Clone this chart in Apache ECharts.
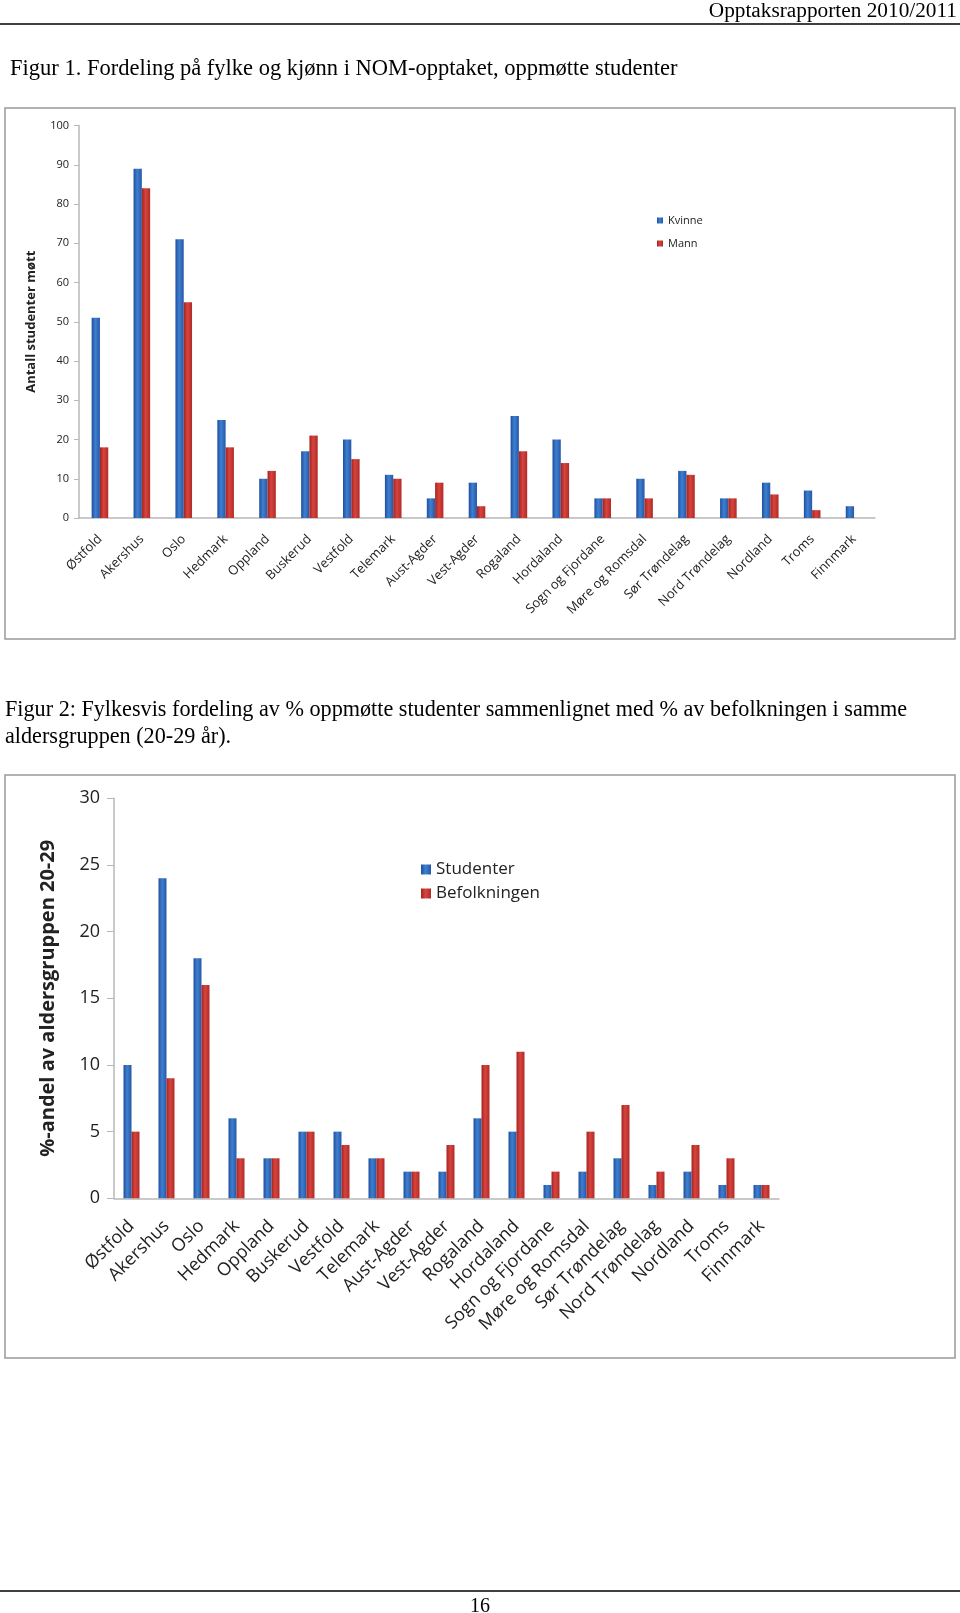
<!DOCTYPE html>
<html>
<head>
<meta charset="utf-8">
<script src="https://cdn.jsdelivr.net/npm/echarts@6/dist/echarts.min.js"></script>
<style>
html,body{margin:0;padding:0;background:#fff;}
#c{width:960px;height:1613px;}
</style>
</head>
<body>
<div id="c"></div>
<script>
// ---- Data ----
const fylker = ['Østfold','Akershus','Oslo','Hedmark','Oppland','Buskerud','Vestfold','Telemark','Aust-Agder','Vest-Agder','Rogaland','Hordaland','Sogn og Fjordane','Møre og Romsdal','Sør Trøndelag','Nord Trøndelag','Nordland','Troms','Finnmark'];
const kvinne = [51,89,71,25,10,17,20,11,5,9,26,20,5,10,12,5,9,7,3];
const mann   = [18,84,55,18,12,21,15,10,9,3,17,14,5,5,11,5,6,2,0];
const studenter    = [10,24,18,6,3,5,5,3,2,2,6,5,1,2,3,1,2,1,1];
const befolkningen = [5,9,16,3,3,5,4,3,2,4,10,11,2,5,7,2,4,3,1];

const headerText = 'Opptaksrapporten 2010/2011';
const caption1 = 'Figur 1. Fordeling på fylke og kjønn i NOM-opptaket, oppmøtte studenter';
const caption2a = 'Figur 2: Fylkesvis fordeling av % oppmøtte studenter sammenlignet med % av befolkningen i samme';
const caption2b = 'aldersgruppen (20-29 år).';
const pageNo = '16';

// ---- Styles ----
const blueGrad = new echarts.graphic.LinearGradient(0,0,1,0,[
  {offset:0,color:'#1f4f9c'},{offset:0.45,color:'#3f7fd0'},{offset:1,color:'#2658a8'}]);
const redGrad = new echarts.graphic.LinearGradient(0,0,1,0,[
  {offset:0,color:'#a3231f'},{offset:0.45,color:'#d8443e'},{offset:1,color:'#b02b27'}]);
const sans = '"Open Sans", "Noto Sans", sans-serif';
const serif = '"Liberation Serif", "DejaVu Serif", serif';
const axisGray = '#b8b8b8';

const chart = echarts.init(document.getElementById('c'), null, {renderer:'canvas'});
chart.setOption({
  animation:false,
  backgroundColor:'#fff',
  graphic:[
    {type:'text', right:3, top:1, style:{text:headerText, font:'21.3px '+serif, fill:'#000'}},
    {type:'line', shape:{x1:0,y1:24,x2:960,y2:24}, style:{stroke:'#000', lineWidth:1.5}},
    {type:'text', left:10, top:58, style:{text:caption1, font:'22.5px '+serif, fill:'#000'}},
    {type:'rect', shape:{x:5,y:108,width:950,height:531}, style:{fill:'none', stroke:'#999', lineWidth:1.5}},
    {type:'text', left:5, top:699, style:{text:caption2a, font:'22.2px '+serif, fill:'#000'}},
    {type:'text', left:5, top:726, style:{text:caption2b, font:'22.2px '+serif, fill:'#000'}},
    {type:'rect', shape:{x:5,y:775,width:950,height:583}, style:{fill:'none', stroke:'#999', lineWidth:1.5}},
    {type:'line', shape:{x1:0,y1:1591,x2:960,y2:1591}, style:{stroke:'#000', lineWidth:1.5}},
    {type:'text', left:470, top:1597, style:{text:pageNo, font:'20px '+serif, fill:'#000'}}
  ],
  legend:[
    {data:['Kvinne','Mann'], orient:'vertical', left:652, top:210, itemWidth:6, itemHeight:6, itemGap:12, icon:'rect',
     textStyle:{fontFamily:sans, fontSize:11, color:'#222'}},
    {data:['Studenter','Befolkningen'], orient:'vertical', left:416, top:856, itemWidth:10, itemHeight:10, itemGap:7, icon:'rect',
     textStyle:{fontFamily:sans, fontSize:17, color:'#222'}}
  ],
  grid:[
    {left:79, top:125.5, width:796, height:392.5},
    {left:114, top:798.3, width:665, height:400}
  ],
  xAxis:[
    {type:'category', gridIndex:0, data:fylker,
     axisLine:{lineStyle:{color:axisGray, width:1.5}}, axisTick:{show:false},
     axisLabel:{rotate:45, interval:0, margin:19, fontFamily:sans, fontSize:13, color:'#222'}},
    {type:'category', gridIndex:1, data:fylker,
     axisLine:{lineStyle:{color:axisGray, width:1.5}}, axisTick:{show:false},
     axisLabel:{rotate:45, interval:0, margin:25, fontFamily:sans, fontSize:18, color:'#222'}}
  ],
  yAxis:[
    {type:'value', gridIndex:0, min:0, max:100, interval:10,
     name:'Antall studenter møtt', nameLocation:'middle', nameGap:41, nameRotate:90,
     nameTextStyle:{fontFamily:sans, fontSize:13, fontWeight:'bold', color:'#222'},
     axisLine:{show:true, lineStyle:{color:axisGray, width:1.5}},
     axisTick:{show:true, length:5, lineStyle:{color:axisGray}},
     splitLine:{show:false},
     axisLabel:{margin:10, fontFamily:sans, fontSize:11, color:'#222'}},
    {type:'value', gridIndex:1, min:0, max:30, interval:5,
     name:'%-andel av aldersgruppen 20-29', nameLocation:'middle', nameGap:56, nameRotate:90,
     nameTextStyle:{fontFamily:sans, fontSize:20, fontWeight:'bold', color:'#222'},
     axisLine:{show:true, lineStyle:{color:axisGray, width:1.5}},
     axisTick:{show:true, length:7, lineStyle:{color:axisGray}},
     splitLine:{show:false},
     axisLabel:{margin:14, fontFamily:sans, fontSize:18, color:'#222'}}
  ],
  series:[
    {name:'Kvinne', type:'bar', xAxisIndex:0, yAxisIndex:0, data:kvinne, barWidth:8.3, barGap:'0%',
     itemStyle:{color:blueGrad}},
    {name:'Mann', type:'bar', xAxisIndex:0, yAxisIndex:0, data:mann, barWidth:8.3, barGap:'0%',
     itemStyle:{color:redGrad}},
    {name:'Studenter', type:'bar', xAxisIndex:1, yAxisIndex:1, data:studenter, barWidth:8, barGap:'0%',
     itemStyle:{color:blueGrad}},
    {name:'Befolkningen', type:'bar', xAxisIndex:1, yAxisIndex:1, data:befolkningen, barWidth:8, barGap:'0%',
     itemStyle:{color:redGrad}}
  ]
});
</script>
</body>
</html>
